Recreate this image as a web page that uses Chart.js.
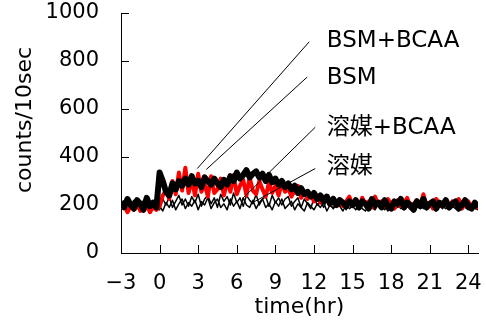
<!DOCTYPE html>
<html>
<head>
<meta charset="utf-8">
<script src="https://cdn.jsdelivr.net/npm/chart.js@4/dist/chart.umd.min.js"></script>
<style>
  html, body { margin: 0; padding: 0; background: #fff; }
  canvas { display: block; }
</style>
</head>
<body>
<canvas id="chart" width="486" height="333"></canvas>
<script>
// ===== data (time in hr, counts/10sec) =====
const TIME = [-3,-2.75,-2.5,-2.25,-2,-1.75,-1.5,-1.25,-1,-0.75,-0.5,-0.25,
  0,0.25,0.5,0.75,1,1.25,1.5,1.75,2,2.25,2.5,2.75,3,3.25,3.5,3.75,4,4.25,
  4.5,4.75,5,5.25,5.5,5.75,6,6.25,6.5,6.75,7,7.25,7.5,7.75,8,8.25,8.5,8.75,
  9,9.25,9.5,9.75,10,10.25,10.5,10.75,11,11.25,11.5,11.75,12,12.25,12.5,12.75,
  13,13.25,13.5,13.75,14,14.25,14.5,14.75,15,15.25,15.5,15.75,16,16.25,16.5,16.75,
  17,17.25,17.5,17.75,18,18.25,18.5,18.75,19,19.25,19.5,19.75,20,20.25,20.5,20.75,
  21,21.25,21.5,21.75,22,22.25,22.5,22.75,23,23.25,23.5,23.75,24,24.25,24.5,24.75];

const BSM_BCAA = [215,190,225,200,185,220,205,180,230,195,210,190,
  335,300,255,240,290,265,300,280,310,285,
  320,290,300,275,315,300,285,310,290,275,
  305,285,320,300,335,310,325,345,315,330,
  340,315,330,300,325,295,310,285,300,275,
  290,265,280,250,270,245,255,235,250,225,
  240,215,235,205,225,200,220,210,195,215,
  200,220,190,215,205,185,225,200,210,190,
  220,195,185,215,205,225,190,210,200,180,
  215,195,225,190,205,215,185,210,200,220,
  190,205,215,185,200,220,195,185,210,190];

const BSM = [185,200,170,195,180,205,175,190,200,170,195,180,
  195,240,260,225,300,245,335,260,355,250,
  305,240,330,255,290,235,320,250,265,310,
  240,300,255,325,245,280,305,240,315,260,
  245,300,265,235,295,250,280,240,290,255,
  270,235,260,280,230,255,225,245,215,240,
  210,235,220,200,230,205,225,195,215,235,
  200,220,190,230,205,215,190,235,200,215,
  195,225,205,185,220,195,210,230,190,205,
  220,195,245,200,210,185,225,200,195,220,
  190,215,200,225,185,205,215,190,200,185];

const SOLV_BCAA = [205,185,215,195,175,210,190,220,185,200,215,190,
  180,225,200,235,190,215,240,200,225,195,
  235,210,245,195,225,240,205,230,190,245,
  215,235,200,250,210,230,195,240,220,205,
  245,200,225,235,195,240,210,230,200,225,
  235,195,215,230,190,225,205,185,230,200,
  215,190,225,205,185,220,195,210,180,215,
  195,210,180,205,215,190,200,185,210,195,
  180,205,215,190,200,185,210,195,180,205,
  195,210,185,200,190,215,180,205,195,185,
  205,190,210,180,200,195,185,205,190,185];

const SOLV = [190,210,180,200,220,185,195,175,210,190,180,205,
  195,175,210,190,220,180,205,225,185,210,
  195,220,180,215,200,230,185,210,225,190,
  205,180,225,195,215,185,230,200,190,220,
  185,210,225,190,205,180,215,195,225,185,
  200,215,180,205,190,175,210,195,180,205,
  190,210,175,200,185,205,195,175,200,185,
  195,180,205,185,175,200,190,180,205,185,
  195,175,200,185,190,205,180,195,185,175,
  200,185,195,180,205,190,175,195,185,200,
  180,195,185,175,200,190,180,195,185,180];

const X_TICKS = [-3,0,3,6,9,12,15,18,21,24];
const SERIES_NAMES = ['BSM+BCAA', 'BSM', '溶媒+BCAA', '溶媒'];

// callouts: label anchor [x, y] and leader line [from, to] in data units
const LABEL_POS = [[13, 884], [13, 729], [13, 519], [13, 360]];
const LEADERS = [
  [[11.63, 880], [2.93, 352]],
  [[11.47, 733], [3.63, 348]],
  [[12.1, 524], [6.43, 226]],
  [[12.1, 352], [7.2, 209]]
];

const FONT = '"DejaVu Sans", "Noto Sans CJK JP", sans-serif';

function pts(arr) {
  return TIME.map((t, i) => ({ x: t, y: arr[i] }));
}

// inward tick marks, callouts and axis titles
const overlay = {
  id: 'overlay',
  afterDraw(chart) {
    const ctx = chart.ctx;
    const xs = chart.scales.x, ys = chart.scales.y;
    const area = chart.chartArea;
    ctx.save();
    ctx.strokeStyle = '#000';
    ctx.lineWidth = 1;
    ctx.beginPath();
    X_TICKS.forEach(v => {
      if (v === -3) return;
      const px = Math.round(xs.getPixelForValue(v)) + 0.5;
      ctx.moveTo(px, area.bottom);
      ctx.lineTo(px, area.bottom - 8);
    });
    for (let v = 200; v <= 1000; v += 200) {
      const py = Math.round(ys.getPixelForValue(v)) + 0.5;
      ctx.moveTo(area.left, py);
      ctx.lineTo(area.left + 8, py);
    }
    ctx.stroke();

    // leader lines
    ctx.beginPath();
    LEADERS.forEach(([a, b]) => {
      ctx.moveTo(xs.getPixelForValue(a[0]), ys.getPixelForValue(a[1]));
      ctx.lineTo(xs.getPixelForValue(b[0]), ys.getPixelForValue(b[1]));
    });
    ctx.stroke();

    ctx.fillStyle = '#000';
    ctx.font = '23px ' + FONT;
    ctx.textAlign = 'left';
    ctx.textBaseline = 'middle';
    SERIES_NAMES.forEach((name, i) => {
      ctx.fillText(name, xs.getPixelForValue(LABEL_POS[i][0]), ys.getPixelForValue(LABEL_POS[i][1]));
    });

    // axis titles
    ctx.font = '22px ' + FONT;
    ctx.textAlign = 'center';
    ctx.fillText('time(hr)', (area.left + area.right) / 2, area.bottom + 54);
    ctx.translate(25, 120);
    ctx.rotate(-Math.PI / 2);
    ctx.fillText('counts/10sec', 0, 0);
    ctx.restore();
  }
};

new Chart(document.getElementById('chart'), {
  type: 'line',
  data: {
    datasets: [
      { label: SERIES_NAMES[0], data: pts(BSM_BCAA), borderColor: '#000', borderWidth: 6, order: 0 },
      { label: SERIES_NAMES[1], data: pts(BSM), borderColor: '#ff0000', borderWidth: 4, order: 1 },
      { label: SERIES_NAMES[2], data: pts(SOLV_BCAA), borderColor: '#000', borderWidth: 1.5, order: 2 },
      { label: SERIES_NAMES[3], data: pts(SOLV), borderColor: '#000', borderWidth: 1.5, order: 3 }
    ]
  },
  options: {
    responsive: false,
    animation: false,
    devicePixelRatio: 1,
    layout: { padding: { top: 13, right: 8, left: 0, bottom: 0 } },
    elements: { point: { radius: 0 }, line: { tension: 0, borderJoinStyle: 'round' } },
    plugins: { legend: { display: false }, tooltip: { enabled: false } },
    scales: {
      x: {
        type: 'linear',
        min: -3,
        max: 24.75,
        afterBuildTicks: axis => { axis.ticks = X_TICKS.map(v => ({ value: v })); },
        afterFit: axis => { axis.height = 80; },
        grid: { display: true, drawOnChartArea: false, drawTicks: true, tickLength: 18, color: 'rgba(0,0,0,0)' },
        border: { display: true, color: '#000', width: 1 },
        ticks: {
          color: '#000', padding: 0, maxRotation: 0, autoSkip: false,
          callback: v => String(v).replace('-', '\u2212'),
          font: { family: FONT, size: 21 }
        }
      },
      y: {
        min: 0,
        max: 1000,
        afterFit: axis => { axis.width = 121; },
        grid: { display: true, drawOnChartArea: false, drawTicks: true, tickLength: 22, color: 'rgba(0,0,0,0)' },
        border: { display: true, color: '#000', width: 1 },
        ticks: { color: '#000', stepSize: 200, padding: 0, callback: v => String(v), font: { family: FONT, size: 21 } }
      }
    }
  },
  plugins: [overlay]
});
</script>
</body>
</html>
